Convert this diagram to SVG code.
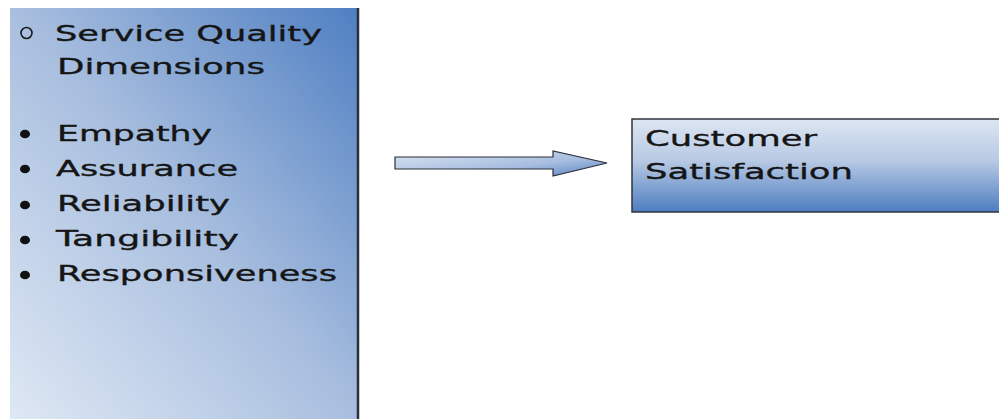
<svg xmlns="http://www.w3.org/2000/svg" width="999" height="419" viewBox="0 0 999 419">
  <defs>
    <linearGradient id="panelFill" x1="0" y1="1" x2="1" y2="0">
      <stop offset="0" stop-color="#dfe8f4"/>
      <stop offset="0.5" stop-color="#a9bfdf"/>
      <stop offset="1" stop-color="#4f7fc2"/>
    </linearGradient>
    <linearGradient id="boxFill" x1="0" y1="0" x2="0" y2="1">
      <stop offset="0" stop-color="#dde6f2"/>
      <stop offset="0.45" stop-color="#b7c9e4"/>
      <stop offset="1" stop-color="#4d7dc0"/>
    </linearGradient>
    <linearGradient id="arrowFill" x1="0" y1="0" x2="1" y2="1">
      <stop offset="0" stop-color="#dbe5f1"/>
      <stop offset="0.6" stop-color="#a7bde0"/>
      <stop offset="1" stop-color="#5a82c2"/>
    </linearGradient>
  </defs>
  <style>
    .label { font-family: "DejaVu Sans", Verdana, sans-serif; font-size: 22px; fill: #151515; stroke: #151515; stroke-width: 0.35px; }
  </style>

  <rect width="999" height="419" fill="#ffffff"/>

  <!-- dimensions panel -->
  <g id="dimensions">
    <rect x="10" y="8" width="348" height="415" fill="url(#panelFill)"/>
    <line x1="358" y1="8" x2="358" y2="419" stroke="#2a2f3a" stroke-width="2.5"/>
    <circle cx="26.5" cy="33" r="5.5" fill="none" stroke="#1a1a1a" stroke-width="1.6"/>
    <text class="label" x="55" y="41" textLength="267" lengthAdjust="spacingAndGlyphs">Service Quality</text>
    <text class="label" x="57" y="74" textLength="208" lengthAdjust="spacingAndGlyphs">Dimensions</text>
    <g fill="#111111">
      <ellipse cx="25" cy="134" rx="5" ry="4.3"/>
      <ellipse cx="25" cy="169" rx="5" ry="4.3"/>
      <ellipse cx="25" cy="205" rx="5" ry="4.3"/>
      <ellipse cx="25" cy="240" rx="5" ry="4.3"/>
      <ellipse cx="25" cy="275" rx="5" ry="4.3"/>
    </g>
    <text class="label" x="57" y="141" textLength="155" lengthAdjust="spacingAndGlyphs">Empathy</text>
    <text class="label" x="56" y="176" textLength="182" lengthAdjust="spacingAndGlyphs">Assurance</text>
    <text class="label" x="57" y="211" textLength="173" lengthAdjust="spacingAndGlyphs">Reliability</text>
    <text class="label" x="56" y="246" textLength="183" lengthAdjust="spacingAndGlyphs">Tangibility</text>
    <text class="label" x="57" y="281" textLength="280" lengthAdjust="spacingAndGlyphs">Responsiveness</text>
  </g>

  <!-- connector -->
  <g id="connectors">
    <path d="M395 157 H553 V151 L607 163 L553 176 V169 H395 Z" fill="url(#arrowFill)" stroke="#2b2f38" stroke-width="1.2" stroke-linejoin="miter"/>
  </g>

  <!-- outcome box -->
  <g id="satisfaction">
    <rect x="632" y="119" width="380" height="93" fill="url(#boxFill)" stroke="#30343c" stroke-width="1.5"/>
    <text class="label" x="645" y="146" textLength="172" lengthAdjust="spacingAndGlyphs">Customer</text>
    <text class="label" x="645" y="179" textLength="208" lengthAdjust="spacingAndGlyphs">Satisfaction</text>
  </g>
</svg>
